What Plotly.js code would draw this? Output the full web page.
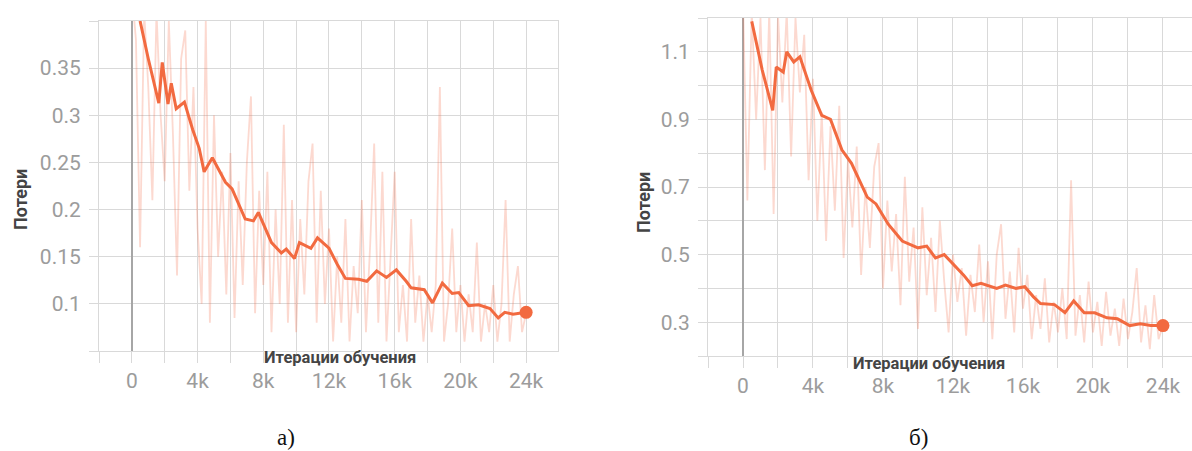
<!DOCTYPE html>
<html>
<head>
<meta charset="utf-8">
<script src="https://cdn.plot.ly/plotly-3.0.1.min.js"></script>
<style>
  html, body { margin: 0; padding: 0; background: #ffffff; }
  #chart { width: 1192px; height: 451px; }
</style>
</head>
<body>
<div id="chart"></div>
<script>
// ---------- DATA (iterations in thousands) ----------
const xTickVals = [0, 4, 8, 12, 16, 20, 24];
const xTickText = ["0", "4k", "8k", "12k", "16k", "20k", "24k"];

const yTickValsA = [0.1, 0.15, 0.2, 0.25, 0.3, 0.35];
const yTickTextA = ["0.1", "0.15", "0.2", "0.25", "0.3", "0.35"];
const yTickValsB = [0.3, 0.5, 0.7, 0.9, 1.1];
const yTickTextB = ["0.3", "0.5", "0.7", "0.9", "1.1"];

// raw (unsmoothed) loss, chart a)
const rawStepsA = [0,0.25,0.5,0.75,1,1.25,1.5,1.75,2,2.25,2.5,2.75,3,3.25,3.5,3.75,4,4.25,4.5,4.75,5,5.25,5.5,5.75,6,6.25,6.5,6.75,7,7.25,7.5,7.75,8,8.25,8.5,8.75,9,9.25,9.5,9.75,10,10.25,10.5,10.75,11,11.25,11.5,11.75,12,12.25,12.5,12.75,13,13.25,13.5,13.75,14,14.25,14.5,14.75,15,15.25,15.5,15.75,16,16.25,16.5,16.75,17,17.25,17.5,17.75,18,18.25,18.5,18.75,19,19.25,19.5,19.75,20,20.25,20.5,20.75,21,21.25,21.5,21.75,22,22.25,22.5,22.75,23,23.25,23.5,23.75,24];
const rawLossA = [0.43,0.38,0.16,0.41,0.33,0.21,0.41,0.30,0.23,0.40,0.28,0.13,0.36,0.39,0.22,0.33,0.18,0.10,0.40,0.08,0.30,0.15,0.24,0.11,0.26,0.085,0.23,0.12,0.25,0.32,0.09,0.22,0.12,0.24,0.07,0.20,0.10,0.29,0.08,0.21,0.07,0.19,0.11,0.23,0.27,0.08,0.22,0.10,0.18,0.06,0.15,0.08,0.19,0.06,0.14,0.09,0.21,0.07,0.16,0.27,0.08,0.24,0.06,0.15,0.24,0.07,0.12,0.06,0.19,0.08,0.13,0.06,0.11,0.07,0.12,0.33,0.06,0.10,0.18,0.07,0.12,0.06,0.11,0.07,0.165,0.06,0.10,0.07,0.12,0.06,0.10,0.21,0.06,0.11,0.14,0.07,0.09];

// smoothed loss, chart a)
const smoothStepsA = [0.5,1.0,1.64,1.85,2.2,2.4,2.7,3.2,3.7,4.1,4.4,4.9,5.7,6.1,6.9,7.4,7.7,8.5,9.1,9.4,9.9,10.2,10.9,11.3,12.0,12.5,13.0,13.8,14.3,14.9,15.5,16.1,16.7,17.0,17.8,18.3,18.9,19.5,19.9,20.5,21.1,21.8,22.3,22.7,23.2,24.0];
const smoothLossA = [0.400,0.360,0.313,0.356,0.312,0.334,0.307,0.314,0.285,0.265,0.240,0.255,0.229,0.222,0.190,0.188,0.197,0.165,0.154,0.158,0.148,0.165,0.159,0.170,0.159,0.142,0.127,0.126,0.124,0.135,0.128,0.136,0.124,0.117,0.115,0.101,0.122,0.111,0.112,0.098,0.099,0.095,0.085,0.091,0.089,0.091];

// raw (unsmoothed) loss, chart б)
const rawStepsB = [0,0.25,0.5,0.75,1,1.25,1.5,1.75,2,2.25,2.5,2.75,3,3.25,3.5,3.75,4,4.25,4.5,4.75,5,5.25,5.5,5.75,6,6.25,6.5,6.75,7,7.25,7.5,7.75,8,8.25,8.5,8.75,9,9.25,9.5,9.75,10,10.25,10.5,10.75,11,11.25,11.5,11.75,12,12.25,12.5,12.75,13,13.25,13.5,13.75,14,14.25,14.5,14.75,15,15.25,15.5,15.75,16,16.25,16.5,16.75,17,17.25,17.5,17.75,18,18.25,18.5,18.75,19,19.25,19.5,19.75,20,20.25,20.5,20.75,21,21.25,21.5,21.75,22,22.25,22.5,22.75,23,23.25,23.5,23.75,24];
const rawLossB = [1.25,0.66,1.22,0.90,1.20,0.75,1.22,0.62,1.21,0.95,1.22,0.79,1.20,0.98,1.15,0.72,1.02,0.60,0.92,0.54,0.88,0.63,0.94,0.49,0.78,0.58,0.82,0.44,0.70,0.52,0.76,0.83,0.40,0.66,0.45,0.62,0.35,0.73,0.42,0.58,0.28,0.64,0.38,0.55,0.33,0.60,0.42,0.27,0.50,0.36,0.46,0.26,0.44,0.33,0.53,0.30,0.48,0.25,0.50,0.59,0.31,0.45,0.27,0.52,0.34,0.44,0.25,0.38,0.28,0.43,0.24,0.36,0.27,0.40,0.25,0.72,0.26,0.38,0.24,0.42,0.27,0.36,0.23,0.39,0.26,0.34,0.23,0.37,0.25,0.33,0.46,0.24,0.35,0.22,0.38,0.25,0.29];

// smoothed loss, chart б)
const smoothStepsB = [0.5,1.1,1.7,1.9,2.3,2.5,2.9,3.25,3.9,4.5,5.0,5.65,6.2,7.1,7.6,8.3,9.1,10.0,10.5,11.0,11.5,12.0,12.6,13.1,13.6,14.5,15.0,15.6,16.1,16.6,17.0,17.8,18.4,18.9,19.5,20.1,20.8,21.4,22.1,22.7,23.3,24.0];
const smoothLossB = [1.19,1.046,0.927,1.055,1.04,1.10,1.07,1.085,0.986,0.912,0.90,0.81,0.77,0.67,0.65,0.59,0.54,0.52,0.525,0.49,0.50,0.473,0.44,0.408,0.415,0.40,0.41,0.40,0.405,0.375,0.355,0.352,0.328,0.363,0.328,0.328,0.313,0.31,0.29,0.295,0.29,0.29];

// ---------- STYLE ----------
const mainColor = "#f26a40";
const rawColor = "rgba(246,120,85,0.28)";
const gridColor = "#d9d9d9";
const tickFont = { family: "Roboto, sans-serif", size: 21, color: "#9c9c9c" };

function last(a) { return a[a.length - 1]; }

const traces = [
  { x: rawStepsA, y: rawLossA, xaxis: "x", yaxis: "y", type: "scatter", mode: "lines",
    line: { color: rawColor, width: 1.8 }, hoverinfo: "skip" },
  { x: smoothStepsA, y: smoothLossA, xaxis: "x", yaxis: "y", type: "scatter", mode: "lines",
    line: { color: mainColor, width: 3 } },
  { x: [last(smoothStepsA)], y: [last(smoothLossA)], xaxis: "x", yaxis: "y", type: "scatter", mode: "markers",
    marker: { color: mainColor, size: 13 } },
  { x: rawStepsB, y: rawLossB, xaxis: "x2", yaxis: "y2", type: "scatter", mode: "lines",
    line: { color: rawColor, width: 1.8 }, hoverinfo: "skip" },
  { x: smoothStepsB, y: smoothLossB, xaxis: "x2", yaxis: "y2", type: "scatter", mode: "lines",
    line: { color: mainColor, width: 3 } },
  { x: [last(smoothStepsB)], y: [last(smoothLossB)], xaxis: "x2", yaxis: "y2", type: "scatter", mode: "markers",
    marker: { color: mainColor, size: 13 } }
];

function xAxis(domain, range, anchor) {
  return {
    domain: domain, range: range, anchor: anchor,
    tickmode: "array", tickvals: xTickVals, ticktext: xTickText,
    ticks: "outside", ticklen: 11, tickcolor: gridColor, tickwidth: 1,
    showgrid: true, gridcolor: gridColor, gridwidth: 1,
    minor: { dtick: 2, tick0: 0, showgrid: true, gridcolor: gridColor, ticks: "outside", ticklen: 11, tickcolor: gridColor },
    zeroline: true, zerolinecolor: "#a6a6a6", zerolinewidth: 2.5,
    showline: true, linecolor: gridColor, mirror: true,
    tickfont: tickFont, fixedrange: true
  };
}
function yAxis(domain, range, anchor, vals, text, minorDtick, minorTick0) {
  return {
    domain: domain, range: range, anchor: anchor,
    tickmode: "array", tickvals: vals, ticktext: text,
    ticks: "outside", ticklen: 9, tickcolor: gridColor, tickwidth: 1,
    showgrid: true, gridcolor: gridColor, gridwidth: 1,
    minor: { dtick: minorDtick, tick0: minorTick0, showgrid: true, gridcolor: gridColor, ticks: "outside", ticklen: 9, tickcolor: gridColor },
    zeroline: false,
    showline: true, linecolor: gridColor, mirror: true,
    tickfont: tickFont, ticklabelstandoff: 4, fixedrange: true
  };
}

const xTitleFont = { family: "Roboto, sans-serif", size: 16.5, color: "#444444", weight: "bold" };
const yTitleFont = { family: "Roboto, sans-serif", size: 18, color: "#444444", weight: "bold" };

const layout = {
  width: 1192, height: 451,
  margin: { l: 0, r: 0, t: 0, b: 0 },
  paper_bgcolor: "#ffffff", plot_bgcolor: "#ffffff",
  showlegend: false,
  xaxis: xAxis([99 / 1192, 558 / 1192], [-2.0, 25.94], "y"),
  yaxis: yAxis([1 - 351 / 451, 1 - 21 / 451], [0.05, 0.40], "x", yTickValsA, yTickTextA, 0.05, 0.05),
  xaxis2: xAxis([708 / 1192, 1], [-2.0, 25.66], "y2"),
  yaxis2: yAxis([1 - 356 / 451, 1 - 18 / 451], [0.2, 1.2], "x2", yTickValsB, yTickTextB, 0.1, 0.2),
  annotations: [
    { text: "Итерации обучения", xref: "paper", yref: "paper", x: 340 / 1192, y: 1 - 357 / 451,
      xanchor: "center", yanchor: "middle", showarrow: false, font: xTitleFont },
    { text: "Итерации обучения", xref: "paper", yref: "paper", x: 929 / 1192, y: 1 - 363 / 451,
      xanchor: "center", yanchor: "middle", showarrow: false, font: xTitleFont },
    { text: "Потери", xref: "paper", yref: "paper", x: 20 / 1192, y: 1 - 200 / 451, textangle: -90,
      xanchor: "center", yanchor: "middle", showarrow: false, font: yTitleFont },
    { text: "Потери", xref: "paper", yref: "paper", x: 643 / 1192, y: 1 - 203 / 451, textangle: -90,
      xanchor: "center", yanchor: "middle", showarrow: false, font: yTitleFont },
    { text: "а)", xref: "paper", yref: "paper", x: 286 / 1192, y: 1 - 437 / 451,
      xanchor: "center", yanchor: "middle", showarrow: false,
      font: { family: "Liberation Serif, serif", size: 23, color: "#111111" } },
    { text: "б)", xref: "paper", yref: "paper", x: 918 / 1192, y: 1 - 437 / 451,
      xanchor: "center", yanchor: "middle", showarrow: false,
      font: { family: "Liberation Serif, serif", size: 23, color: "#111111" } }
  ]
};

Plotly.newPlot("chart", traces, layout, { staticPlot: true, displayModeBar: false });
</script>
</body>
</html>
